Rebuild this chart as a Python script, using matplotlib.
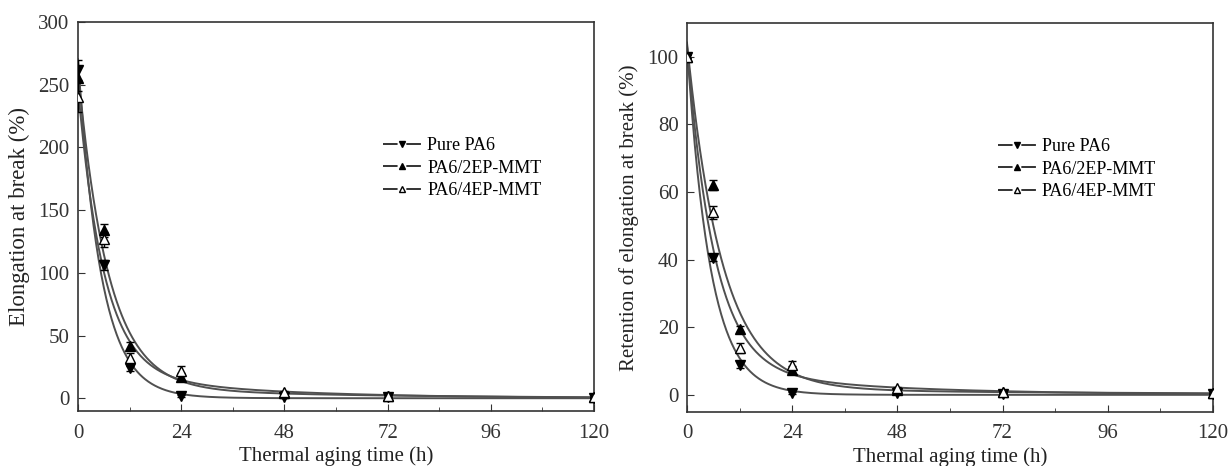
import numpy as np
import matplotlib
matplotlib.use("Agg")
import matplotlib.pyplot as plt
from matplotlib.lines import Line2D
from matplotlib.ticker import MultipleLocator

plt.rcParams['font.family'] = ['Liberation Serif', 'DejaVu Serif']

time_h = [0, 6, 12, 24, 48, 72, 120]
series_names = ["Pure PA6", "PA6/2EP-MMT", "PA6/4EP-MMT"]

# Elongation at break (%)
elong_pure = [262, 106, 24, 2, 1, 1, 0.5]
elong_2ep = [255, 134, 42, 17, 4, 2, 1]
elong_4ep = [240, 127, 32, 22, 5, 2, 1]
elong_err_pure = [8, 4, 2, 1, 1, 1, 0.5]
elong_err_2ep = [10, 5, 3, 3, 1, 1, 0.5]
elong_err_4ep = [12, 6, 4, 4, 1, 1, 0.5]

# Retention of elongation at break (%)
ret_pure = [100, 40.5, 9, 0.5, 0.5, 0.3, 0.2]
ret_2ep = [100, 62, 19.5, 7.5, 1.5, 0.8, 0.5]
ret_4ep = [100, 54, 14, 9, 2, 0.8, 0.5]
ret_err_pure = [0.5, 1.0, 1.0, 0.3, 0.3, 0.2, 0.1]
ret_err_2ep = [0.5, 1.5, 1.0, 1.0, 0.5, 0.3, 0.2]
ret_err_4ep = [0.5, 2.0, 1.5, 1.0, 0.5, 0.3, 0.2]

markers = ['v', '^', '^']
faces = ['black', 'black', 'white']


def fit_biexp(t, y, scale):
    """Weighted least-squares fit of a two-term exponential decay."""
    t = np.asarray(t, float)
    y = np.asarray(y, float)
    w = 1.0 / np.sqrt(y + 0.04 * scale)
    best = None
    for t1 in np.linspace(2, 15, 53):
        for t2 in np.linspace(8, 60, 53):
            if t2 <= t1:
                continue
            M = np.column_stack([np.exp(-t / t1), np.exp(-t / t2), np.ones_like(t)])
            coef, *_ = np.linalg.lstsq(M * w[:, None], y * w, rcond=None)
            if coef[0] < 0 or coef[1] < 0 or coef[2] < 0:
                continue
            r = np.sum(((M @ coef - y) * w) ** 2)
            if best is None or r < best[0]:
                best = (r, t1, t2, coef)
    _, t1, t2, c = best
    return lambda tt: c[0] * np.exp(-tt / t1) + c[1] * np.exp(-tt / t2) + c[2]


fig = plt.figure(figsize=(12.3, 4.66), dpi=100)
ax1 = fig.add_axes([0.0634, 0.118, 0.4195, 0.835])
ax2 = fig.add_axes([0.5585, 0.116, 0.4276, 0.835])

tt = np.linspace(0, 120, 800)


def draw(ax, data, errs, ylim, yticks, ylabel, ylabsize, scale):
    for y in data:
        f = fit_biexp(time_h, y, scale)
        ax.plot(tt, f(tt), color='#505050', lw=1.4, zorder=2)
    for y, e, m, fc in zip(data, errs, markers, faces):
        ax.errorbar(time_h, y, yerr=e, fmt=m, ms=7, mfc=fc, mec='black',
                    ecolor='black', elinewidth=1, capsize=3, color='black', zorder=3)
    ax.set_xlim(0, 120)
    ax.set_ylim(*ylim)
    ax.set_xticks([0, 24, 48, 72, 96, 120])
    ax.xaxis.set_minor_locator(MultipleLocator(12))
    ax.set_yticks(yticks)
    ax.tick_params(which='both', direction='in', top=False, right=False,
                   labelsize=15, colors='#333333')
    ax.tick_params(axis='x', which='major', pad=9)
    ax.tick_params(axis='y', which='major', pad=6)
    ax.tick_params(which='major', length=5)
    ax.tick_params(which='minor', length=3)
    for s in ax.spines.values():
        s.set_color('#333333')
        s.set_linewidth(1.2)
    ax.set_xlabel('Thermal aging time (h)', fontsize=15, color='#222222', labelpad=3)
    ax.set_ylabel(ylabel, fontsize=ylabsize, color='#222222', labelpad=6)
    handles = []
    for m, fc in zip(markers, faces):
        ln = Line2D([0], [0], color='#333333', lw=1.4, dashes=[7.5, 4.5])
        mk = Line2D([0], [0], ls='none', marker=m, ms=5, mfc=fc, mec='black')
        handles.append((ln, mk))
    ax.legend(handles, series_names, loc='upper left', bbox_to_anchor=(0.56, 0.745),
              frameon=False, fontsize=13, handlelength=2.1, handletextpad=0.35,
              labelspacing=0.3)


draw(ax1, [elong_pure, elong_2ep, elong_4ep],
     [elong_err_pure, elong_err_2ep, elong_err_4ep],
     (-10, 300), [0, 50, 100, 150, 200, 250, 300], 'Elongation at break (%)', 16.5, 300)
draw(ax2, [ret_pure, ret_2ep, ret_4ep],
     [ret_err_pure, ret_err_2ep, ret_err_4ep],
     (-5, 110), [0, 20, 40, 60, 80, 100], 'Retention of elongation at break (%)', 15, 100)

fig.savefig('out.png', dpi=100)
